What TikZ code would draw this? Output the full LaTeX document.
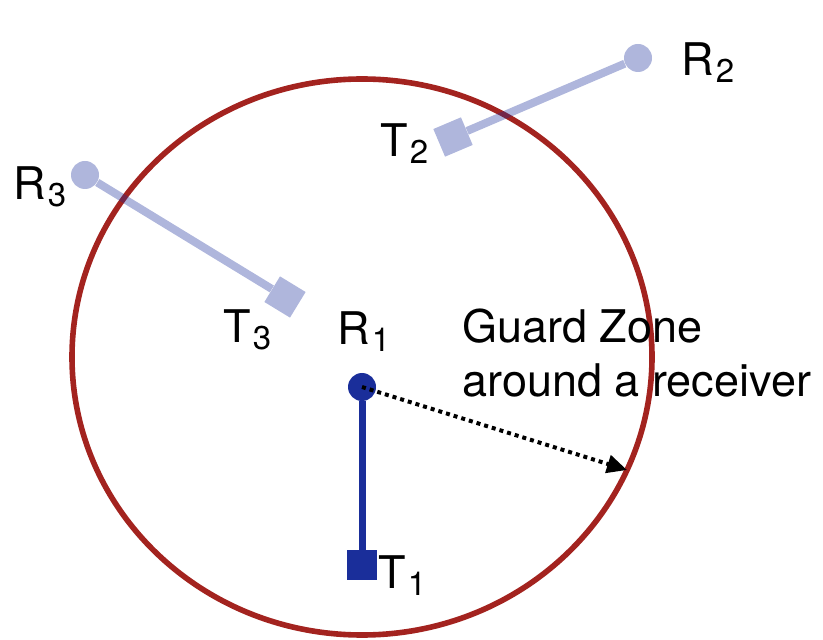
\documentclass[tikz,border=0pt]{standalone}
\usepackage{fontspec}
\setmainfont{TeX Gyre Heros}
\usepackage{tikz}
\usetikzlibrary{arrows.meta,positioning}
\definecolor{rxblue}{HTML}{1A2E9A}
\definecolor{zonered}{HTML}{A3231F}
\newcommand{\nodeidx}[1]{\kern1pt\raisebox{-3.5pt}{\fontsize{16.5}{16.5}\selectfont #1}}

\begin{document}
\begin{tikzpicture}[x=0.5pt, y=-0.5pt, rxdot/.style={circle, fill=rxblue, inner sep=0pt, minimum size=14pt}, txbox/.style={rectangle, fill=rxblue, inner sep=0pt, minimum size=15pt}, link/.style={draw=rxblue, line width=3.5pt}, faint/.style={transparency group, opacity=0.35}, lbl/.style={inner sep=0pt, anchor=base west, font=\fontsize{22.5}{27}\selectfont}, zone/.style={draw=zonered, line width=2.8pt}, radius/.style={-{Triangle[length=10pt,width=9pt]}, line width=2pt, dash pattern=on 2pt off 2pt}]
\useasboundingbox (0,0) rectangle (823,640);
\draw[zone] (362,357) ellipse [x radius=290, y radius=278];
\coordinate (rim) at (627,470);
% own link
\node[rxdot] (r1) at (362,387) {};
\node[txbox] (t1) at (362,565) {};
\draw[link] (r1) -- (t1);
% interfering links
\begin{scope}[faint]
\node[rxdot] (r2) at (638,58) {};
\node[txbox, rotate=23] (t2) at (453,137) {};
\draw[link, line width=4pt] (r2) -- (t2);
\end{scope}
\begin{scope}[faint]
\node[rxdot] (r3) at (85,175) {};
\node[txbox, rotate=-31.4] (t3) at (285,297) {};
\draw[link, line width=4pt] (r3) -- (t3);
\end{scope}
\draw[radius] (r1.center) -- (rim);
% labels
\node[lbl] (r1lbl) at (337,345) {R\nodeidx{1}};
\node[lbl] (t1lbl) at (378,588) {T\nodeidx{1}};
\node[lbl] (r2lbl) at (681,76) {R\nodeidx{2}};
\node[lbl] (t2lbl) at (380,157) {T\nodeidx{2}};
\node[lbl] (r3lbl) at (13,200) {R\nodeidx{3}};
\node[lbl] (t3lbl) at (223,343) {T\nodeidx{3}};
\node[lbl, align=left] (zonelbl) at (462,397) {Guard Zone\\around a receiver};
\end{tikzpicture}
\end{document}
